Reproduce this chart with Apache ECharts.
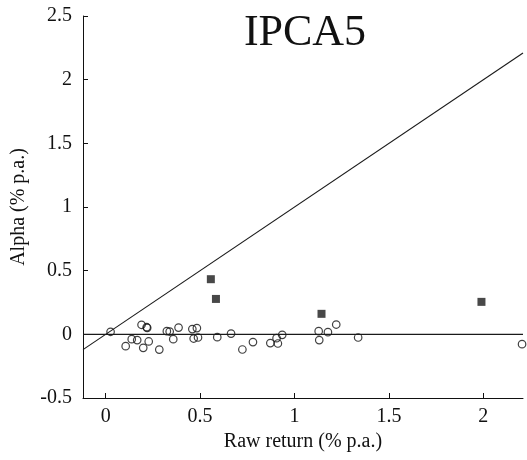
<!DOCTYPE html>
<html>
<head>
<meta charset="utf-8">
<script src="https://cdn.jsdelivr.net/npm/echarts@6/dist/echarts.min.js"></script>
<style>
  html, body { margin: 0; padding: 0; background: #fff; }
  #chart { width: 527px; height: 460px; }
</style>
</head>
<body>
<div id="chart"></div>
<script>
// raw return vs alpha, % p.a.
var circlePoints = [
    [0.026, 0.02], [0.106, -0.093], [0.138, -0.038], [0.167, -0.045],
    [0.19, 0.075], [0.199, -0.106], [0.217, 0.056], [0.22, 0.051],
    [0.228, -0.056], [0.284, -0.12], [0.324, 0.025], [0.339, 0.022],
    [0.358, -0.038], [0.386, 0.053], [0.459, 0.041], [0.483, 0.049],
    [0.466, -0.033], [0.489, -0.025], [0.591, -0.022], [0.664, 0.006],
    [0.724, -0.119], [0.78, -0.061], [0.872, -0.069], [0.905, -0.03],
    [0.912, -0.072], [0.935, -0.004], [1.128, 0.025], [1.131, -0.045],
    [1.177, 0.017], [1.221, 0.077], [1.337, -0.025], [2.205, -0.077]
];
var squarePoints = [
    [0.557, 0.433], [0.584, 0.278], [1.143, 0.161], [1.99, 0.255]
];
var xTicks = [0, 0.5, 1, 1.5, 2];
var xRange = [-0.12, 2.21];
var yRange = [-0.5, 2.5];

var serif = '"Liberation Serif", "DejaVu Serif", serif';

var myChart = echarts.init(document.getElementById('chart'));

option = {
    backgroundColor: '#fff',
    animation: false,
    title: {
        text: 'IPCA5',
        left: 300,
        top: 6,
        textAlign: 'center',
        textStyle: {
            fontFamily: serif,
            fontSize: 44,
            fontWeight: 'normal',
            color: '#111'
        }
    },
    grid: {
        left: 83,
        right: 4,
        top: 16,
        bottom: 62
    },
    xAxis: {
        type: 'value',
        min: xRange[0],
        max: xRange[1],
        name: 'Raw return (% p.a.)',
        nameLocation: 'middle',
        nameGap: 32,
        nameTextStyle: { fontFamily: serif, fontSize: 20, color: '#111' },
        splitLine: { show: false },
        axisLine: { onZero: false, lineStyle: { color: '#111', width: 1 } },
        axisTick: { inside: true, length: 5, customValues: xTicks, lineStyle: { color: '#111' } },
        axisLabel: {
            customValues: xTicks,
            fontFamily: serif,
            fontSize: 20,
            color: '#111',
            margin: 9
        }
    },
    yAxis: {
        type: 'value',
        min: yRange[0],
        max: yRange[1],
        interval: 0.5,
        name: 'Alpha (% p.a.)',
        nameLocation: 'middle',
        nameGap: 54,
        nameTextStyle: { fontFamily: serif, fontSize: 20, color: '#111' },
        splitLine: { show: false },
        axisLine: { show: true, onZero: false, lineStyle: { color: '#111', width: 1 } },
        axisTick: { show: true, inside: true, length: 5, lineStyle: { color: '#111' } },
        axisLabel: {
            fontFamily: serif,
            fontSize: 20,
            color: '#111',
            margin: 11
        }
    },
    series: [
        {
            name: '45 degree',
            type: 'line',
            data: [[xRange[0], xRange[0]], [xRange[1], xRange[1]]],
            symbol: 'none',
            lineStyle: { color: '#1a1a1a', width: 1.1 },
            silent: true
        },
        {
            name: 'zero',
            type: 'line',
            data: [[xRange[0], 0], [xRange[1], 0]],
            symbol: 'none',
            lineStyle: { color: '#1a1a1a', width: 1.1 },
            silent: true
        },
        {
            name: 'circles',
            type: 'scatter',
            data: circlePoints,
            symbol: 'circle',
            symbolSize: 7.5,
            itemStyle: { color: 'rgba(255,255,255,0)', borderColor: '#111', borderWidth: 1.2 }
        },
        {
            name: 'squares',
            type: 'scatter',
            data: squarePoints,
            symbol: 'rect',
            symbolSize: 8,
            itemStyle: { color: '#1a1a1a' }
        }
    ]
};

myChart.setOption(option);
</script>
</body>
</html>
